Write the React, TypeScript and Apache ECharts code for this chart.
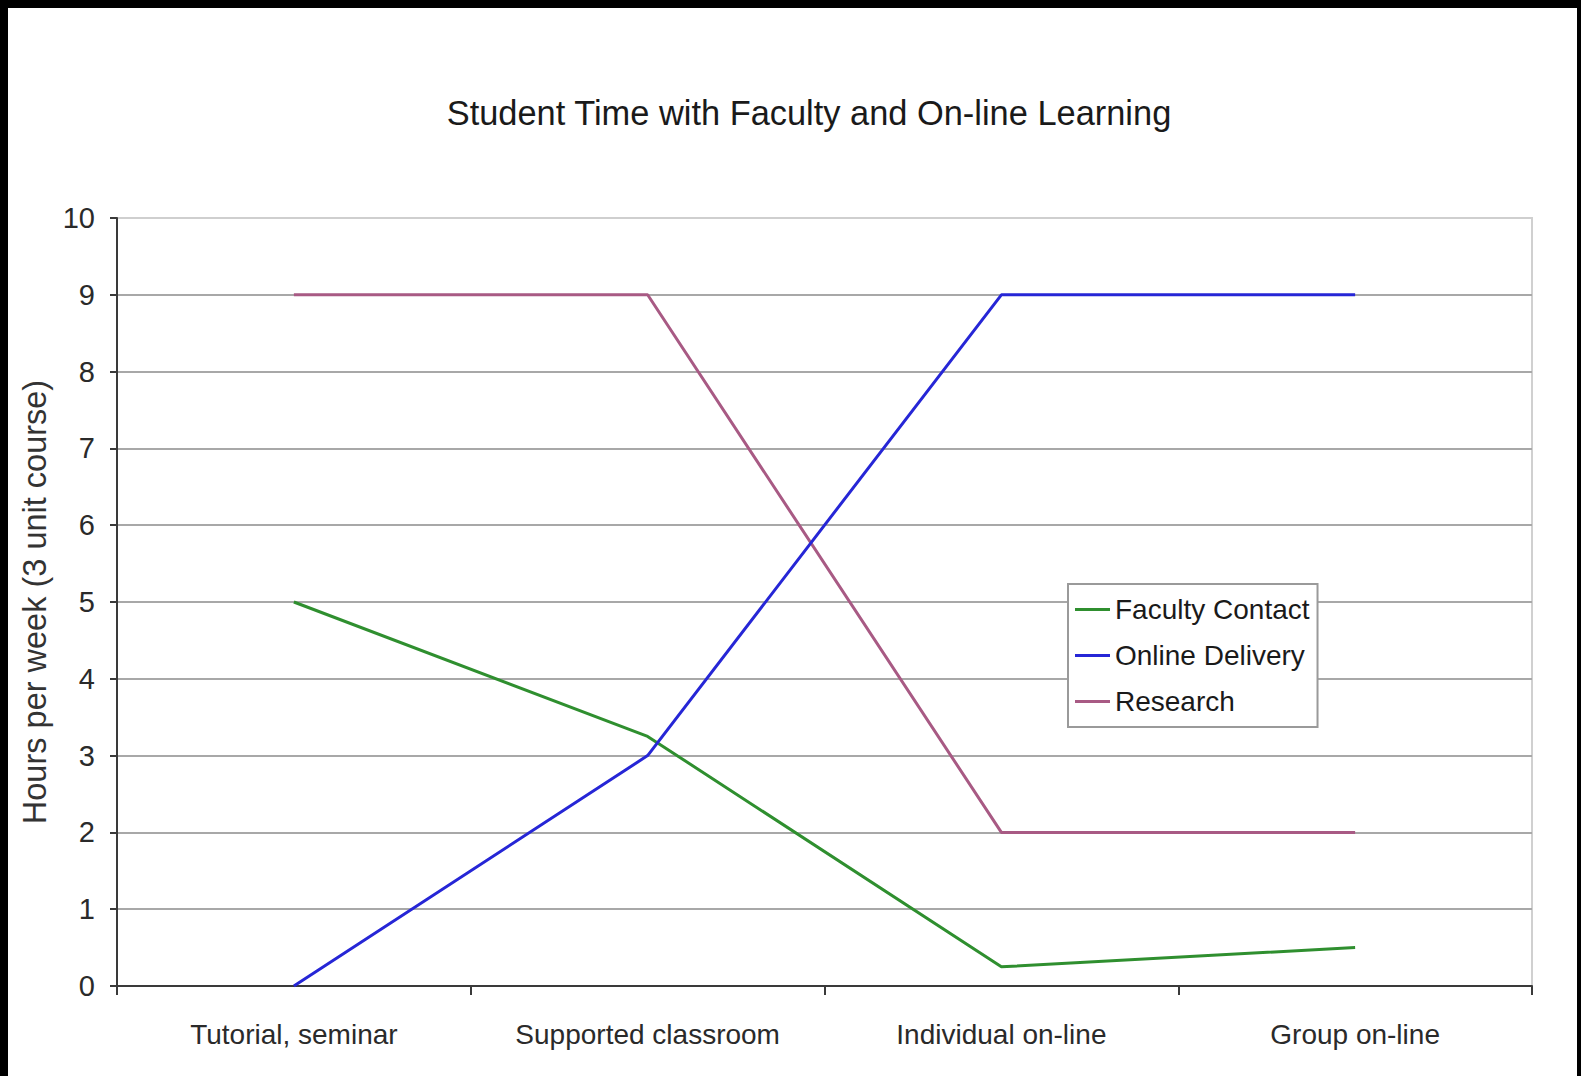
import React, { useEffect, useRef } from "react";
import * as echarts from "echarts";

const categories = ["Tutorial, seminar", "Supported classroom", "Individual on-line", "Group on-line"];
const facultyContact = [5, 3.25, 0.25, 0.5];
const onlineDelivery = [0, 3, 9, 9];
const research = [9, 9, 2, 2];
const yTicks = [0, 1, 2, 3, 4, 5, 6, 7, 8, 9, 10];

const FONT = "'Liberation Sans', Arial, Helvetica, sans-serif";

export default function App() {
  const ref = useRef<HTMLDivElement>(null);
  useEffect(() => {
    if (!ref.current) return;
    const chart = echarts.init(ref.current, undefined, { renderer: "svg" });
    const gridColors = yTicks.map((t) => (t === 10 ? "#cfcfcf" : "#a8a8a8"));
    chart.setOption({
      animation: false,
      backgroundColor: "#000000",
      textStyle: { fontFamily: FONT },
      graphic: [
        { type: "rect", left: 8, top: 8, shape: { width: 1569, height: 1068 }, style: { fill: "#ffffff" }, z: -10 },
      ],
      title: {
        text: "Student Time with Faculty and On-line Learning",
        left: 804,
        top: 91,
        textAlign: "center",
        textStyle: { fontFamily: FONT, fontSize: 34.4, fontWeight: "normal", color: "#1a1a1a" },
      },
      grid: {
        left: 117,
        top: 218,
        width: 1415,
        height: 768,
        show: true,
        borderColor: "#d0d0d0",
        borderWidth: 2,
        backgroundColor: "transparent",
      },
      legend: {
        orient: "vertical",
        left: 1068,
        top: 584,
        data: ["Faculty Contact", "Online Delivery", "Research"],
        icon: "rect",
        itemWidth: 35,
        itemHeight: 3,
        itemGap: 17,
        padding: [11, 8, 11, 7],
        borderColor: "#9a9a9a",
        borderWidth: 2,
        backgroundColor: "#ffffff",
        textStyle: { fontFamily: FONT, fontSize: 28, lineHeight: 29, color: "#1a1a1a", padding: [0, 0, 0, 0] },
      },
      xAxis: {
        type: "category",
        data: categories,
        boundaryGap: true,
        axisLine: { lineStyle: { color: "#3a3a3a", width: 2 } },
        axisTick: { show: true, length: 9, interval: 0, lineStyle: { color: "#3a3a3a", width: 2 } },
        axisLabel: { fontFamily: FONT, fontSize: 28, color: "#2a2a2a", margin: 34, interval: 0 },
        splitLine: { show: false },
      },
      yAxis: {
        type: "value",
        min: 0,
        max: 10,
        interval: 1,
        name: "Hours per week (3 unit course)",
        nameLocation: "middle",
        nameGap: 66,
        nameTextStyle: { fontFamily: FONT, fontSize: 32.5, color: "#333333" },
        axisLine: { show: true, lineStyle: { color: "#3a3a3a", width: 2 } },
        axisTick: { show: true, length: 7, lineStyle: { color: "#3a3a3a", width: 2 } },
        axisLabel: { fontFamily: FONT, fontSize: 29, color: "#2a2a2a", margin: 22 },
        splitLine: { show: true, lineStyle: { color: gridColors, width: 2 } },
      },
      series: [
        {
          name: "Faculty Contact",
          type: "line",
          data: facultyContact,
          symbol: "none",
          lineStyle: { color: "#2f8f2f", width: 3 },
          itemStyle: { color: "#2f8f2f" },
          z: 4,
        },
        {
          name: "Online Delivery",
          type: "line",
          data: onlineDelivery,
          symbol: "none",
          lineStyle: { color: "#2626d6", width: 3 },
          itemStyle: { color: "#2626d6" },
          z: 5,
        },
        {
          name: "Research",
          type: "line",
          data: research,
          symbol: "none",
          lineStyle: { color: "#a85a84", width: 3 },
          itemStyle: { color: "#a85a84" },
          z: 3,
        },
      ],
    });
    return () => chart.dispose();
  }, []);
  return (
    <div
      ref={ref}
      style={{ position: "absolute", left: 0, top: 0, width: 1581, height: 1076 }}
    />
  );
}
